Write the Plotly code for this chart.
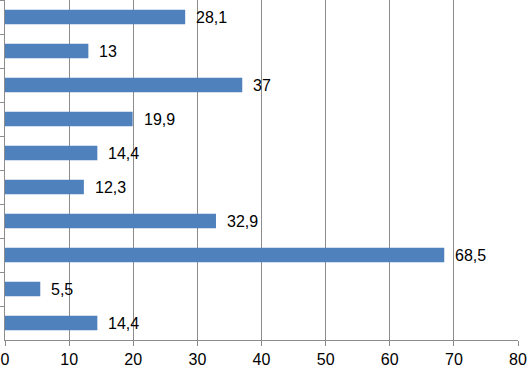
import plotly.graph_objects as go

categories = ["c1", "c2", "c3", "c4", "c5", "c6", "c7", "c8", "c9", "c10"]
values = [28.1, 13, 37, 19.9, 14.4, 12.3, 32.9, 68.5, 5.5, 14.4]
x_ticks = [0, 10, 20, 30, 40, 50, 60, 70, 80]

labels = [str(v).replace(".", ",") for v in values]

fig = go.Figure(go.Bar(
    x=values, y=categories, orientation="h",
    marker=dict(color="#4F81BD", line=dict(width=0)),
    width=0.42,
))

for c, v, t in zip(categories, values, labels):
    fig.add_annotation(x=v, y=c, text=t, showarrow=False, xanchor="left",
                       xshift=9, font=dict(size=16, color="#000000"))

fig.update_layout(
    width=529, height=369,
    margin=dict(l=5, r=11, t=0, b=29, autoexpand=False),
    paper_bgcolor="white", plot_bgcolor="white",
    font=dict(family="Liberation Sans, Arial", size=16, color="#000000"),
    showlegend=False,
    xaxis=dict(range=[0, 80], tickvals=x_ticks, showgrid=True, gridcolor="#8c8c8c",
               gridwidth=1, showline=True, linecolor="#8c8c8c", linewidth=1,
               ticks="outside", ticklen=5, tickcolor="#8c8c8c", zeroline=False,
               automargin=False, tickfont=dict(size=16, color="#000000")),
    yaxis=dict(autorange="reversed", showticklabels=False, showline=True,
               linecolor="#8c8c8c", linewidth=1, ticks="outside", ticklen=5,
               tickcolor="#8c8c8c", tickson="boundaries", showgrid=False,
               zeroline=False, automargin=False),
)

fig.write_html("out.html", config={"displayModeBar": False},
               post_script="document.body.style.margin='0px';")
